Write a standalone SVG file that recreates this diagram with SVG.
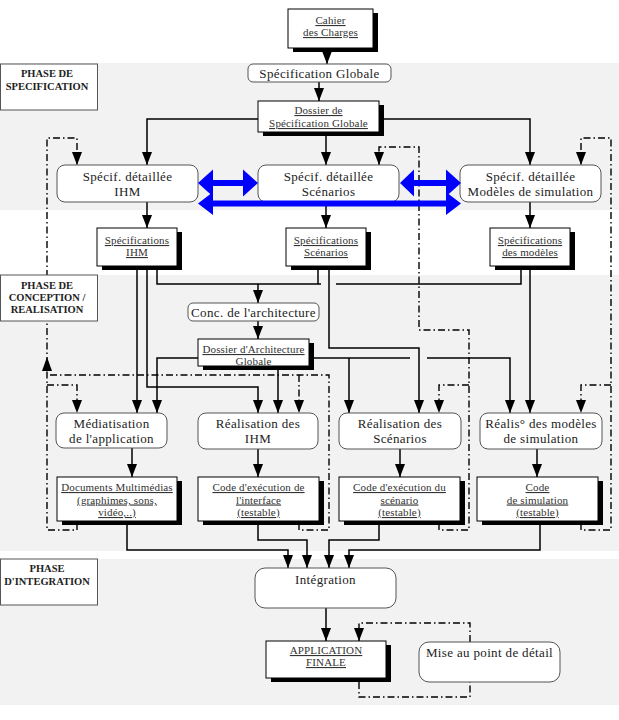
<svg xmlns="http://www.w3.org/2000/svg" width="619" height="720" viewBox="0 0 619 720">
<defs>
<marker id="ah" viewBox="0 0 13 10" refX="13" refY="5" markerWidth="13" markerHeight="10" markerUnits="userSpaceOnUse" orient="auto"><path d="M0,0 L13,5 L0,10 Z" fill="#000"/></marker>
<style>
.band{fill:#f2f2f2}
.phase rect{fill:#fff;stroke:#555;stroke-width:1}
.phase text{font-family:"Liberation Serif",serif;font-weight:bold;font-size:10.5px;text-anchor:middle;fill:#222}
.proc rect{fill:#fff;stroke:#555;stroke-width:1}
.proc text{font-family:"Liberation Serif",serif;font-size:13px;letter-spacing:0.35px;text-anchor:middle;fill:#222}
.doc .sh{fill:#000}
.doc .bx{fill:#fff;stroke:#000;stroke-width:1}
.doc text{font-family:"Liberation Serif",serif;font-size:11px;letter-spacing:0.15px;text-anchor:middle;fill:#333;text-decoration:underline}
.doc text.nu{text-decoration:none}
.c{fill:none;stroke:#000;stroke-width:1.5}
.d{fill:none;stroke:#000;stroke-width:1.4;stroke-dasharray:7 3 1.5 3}
.a{marker-end:url(#ah)}
.blue{fill:#0000ff}
</style>
</defs>
<g id="bands">
<rect class="band" x="0" y="63" width="619" height="147"/>
<rect class="band" x="0" y="275" width="619" height="276"/>
<rect class="band" x="0" y="559" width="619" height="146"/>
</g>
<g id="connectors">
<path class="c a" d="M327,48 V64"/>
<path class="c a" d="M319,82 V101"/>
<path class="c a" d="M258,119 H147 V165"/>
<path class="c a" d="M326,134 V165"/>
<path class="c a" d="M379,119 H530 V165"/>
<path class="c a" d="M147,202 V228"/>
<path class="c a" d="M326,202 V228"/>
<path class="c a" d="M530,202 V228"/>
<path class="c a" d="M137,266 V413"/>
<path class="c a" d="M147,266 V387 H258 V413"/>
<path class="c" d="M157,266 V284 H321"/>
<path class="c" d="M318,266 V284"/>
<path class="c" d="M336,284 H521 V267"/>
<path class="c a" d="M258,284 V303"/>
<path class="c a" d="M329,266 V348 H419 V413"/>
<path class="c a" d="M530,267 V413"/>
<path class="c a" d="M258,321 V339"/>
<path class="c a" d="M198,358 H157 V413"/>
<path class="c a" d="M278,368 V413"/>
<path class="c" d="M309,358 H410"/>
<path class="c a" d="M427,358 H510 V413"/>
<path class="c a" d="M349,358 V413"/>
<path class="c a" d="M132,448 V477"/>
<path class="c a" d="M258,449 V477"/>
<path class="c a" d="M400,449 V477"/>
<path class="c a" d="M537,449 V477"/>
<path class="c a" d="M127,523 V550 H288 V568"/>
<path class="c a" d="M258,523 V540 H307 V568"/>
<path class="c a" d="M379,523 V540 H329 V568"/>
<path class="c a" d="M540,523 V550 H349 V568"/>
<path class="c a" d="M326,608 V641"/>
<path class="d a" d="M77,523 V530 H47 V138 H77 V165"/>
<polygon points="47,357 42,371 52,371" fill="#000"/>
<path class="d" d="M299,523 V530 H329 V375 H47"/>
<path class="d a" d="M299,375 V413"/>
<path class="d a" d="M47,385 H77 V413"/>
<path class="d a" d="M439,523 V530 H469 V330 H419 V147 H379 V165"/>
<path class="d a" d="M469,385 H439 V413"/>
<path class="d a" d="M581,523 V530 H611 V138 H581 V165"/>
<path class="d a" d="M611,385 H581 V413"/>
<path class="d" d="M359,682 V697 H470 V682"/>
<path class="d a" d="M470,642 V623 H359 V641"/>
</g>
<g id="phase-spec" class="phase">
<rect x="0.5" y="64" width="97" height="46"/>
<text x="47" y="77">PHASE DE</text>
<text x="47" y="90">SPECIFICATION</text>
</g>
<g id="phase-conception" class="phase">
<rect x="0.5" y="275" width="97" height="46"/>
<text x="47" y="289">PHASE DE</text>
<text x="47" y="301">CONCEPTION /</text>
<text x="47" y="313">REALISATION</text>
</g>
<g id="phase-integration" class="phase">
<rect x="0.5" y="559" width="97" height="46"/>
<text x="47" y="572">PHASE</text>
<text x="47" y="585">D'INTEGRATION</text>
</g>
<g id="cahier" class="doc">
<rect class="sh" x="293" y="13" width="85" height="39"/>
<rect class="bx" x="288" y="9" width="85" height="39"/>
<text x="330.5" y="24">Cahier</text>
<text x="330.5" y="36">des Charges</text>
</g>
<g id="spec-globale" class="proc">
<rect x="248" y="64" width="143" height="18" rx="5"/>
<text x="319.5" y="78">Spécification Globale</text>
</g>
<g id="dossier-spec" class="doc">
<rect class="sh" x="263" y="105" width="121" height="31"/>
<rect class="bx" x="258" y="101" width="121" height="31"/>
<text x="318.5" y="114">Dossier de</text>
<text x="318.5" y="127">Spécification Globale</text>
</g>
<g id="spec-ihm" class="proc">
<rect x="57" y="165" width="141" height="37" rx="8"/>
<text x="127.5" y="181">Spécif. détaillée</text>
<text x="127.5" y="196">IHM</text>
</g>
<g id="spec-scen" class="proc">
<rect x="258" y="165" width="141" height="37" rx="8"/>
<text x="328.5" y="181">Spécif. détaillée</text>
<text x="328.5" y="196">Scénarios</text>
</g>
<g id="spec-mod" class="proc">
<rect x="460" y="165" width="141" height="37" rx="8"/>
<text x="530.5" y="181">Spécif. détaillée</text>
<text x="530.5" y="196">Modèles de simulation</text>
</g>
<g id="specs-ihm" class="doc">
<rect class="sh" x="102" y="232" width="80" height="38"/>
<rect class="bx" x="97" y="228" width="80" height="38"/>
<text x="137" y="244">Spécifications</text>
<text x="137" y="256">IHM</text>
</g>
<g id="specs-scen" class="doc">
<rect class="sh" x="291" y="232" width="80" height="38"/>
<rect class="bx" x="286" y="228" width="80" height="38"/>
<text x="326" y="244">Spécifications</text>
<text x="326" y="256">Scénarios</text>
</g>
<g id="specs-mod" class="doc">
<rect class="sh" x="495" y="232" width="80" height="38"/>
<rect class="bx" x="490" y="228" width="80" height="38"/>
<text x="530" y="244">Spécifications</text>
<text x="530" y="256">des modèles</text>
</g>
<g id="conc-archi" class="proc">
<rect x="188" y="303" width="131" height="18" rx="5"/>
<text x="253.5" y="317">Conc. de l'architecture</text>
</g>
<g id="dossier-archi" class="doc">
<rect class="sh" x="203" y="343" width="111" height="27"/>
<rect class="bx" x="198" y="339" width="111" height="27"/>
<text x="253.5" y="353">Dossier d'Architecture</text>
<text class="nu" x="253.5" y="365">Globale</text>
</g>
<g id="mediatisation" class="proc">
<rect x="56" y="413" width="111" height="35" rx="8"/>
<text x="111.5" y="428">Médiatisation</text>
<text x="111.5" y="443">de l'application</text>
</g>
<g id="real-ihm" class="proc">
<rect x="198" y="413" width="120" height="36" rx="8"/>
<text x="258" y="428">Réalisation des</text>
<text x="258" y="443">IHM</text>
</g>
<g id="real-scen" class="proc">
<rect x="339" y="413" width="122" height="36" rx="8"/>
<text x="400" y="428">Réalisation des</text>
<text x="400" y="443">Scénarios</text>
</g>
<g id="real-mod" class="proc">
<rect x="480" y="413" width="122" height="36" rx="8"/>
<text x="541" y="428">Réalis° des modèles</text>
<text x="541" y="443">de simulation</text>
</g>
<g id="docs-multi" class="doc">
<rect class="sh" x="62" y="481" width="120" height="44"/>
<rect class="bx" x="57" y="477" width="120" height="44"/>
<text x="117" y="491">Documents Multimédias</text>
<text x="117" y="503.5">(graphimes, sons,</text>
<text x="117" y="516">vidéo,..)</text>
</g>
<g id="code-ihm" class="doc">
<rect class="sh" x="203" y="481" width="121" height="44"/>
<rect class="bx" x="198" y="477" width="121" height="44"/>
<text x="258.5" y="491">Code d'exécution de</text>
<text x="258.5" y="503.5">l'interface</text>
<text x="258.5" y="516">(testable)</text>
</g>
<g id="code-scen" class="doc">
<rect class="sh" x="344" y="481" width="121" height="44"/>
<rect class="bx" x="339" y="477" width="121" height="44"/>
<text x="399.5" y="491">Code d'exécution du</text>
<text x="399.5" y="503.5">scénario</text>
<text x="399.5" y="516">(testable)</text>
</g>
<g id="code-sim" class="doc">
<rect class="sh" x="482" y="481" width="121" height="44"/>
<rect class="bx" x="477" y="477" width="121" height="44"/>
<text x="537.5" y="491">Code</text>
<text x="537.5" y="503.5">de simulation</text>
<text x="537.5" y="516">(testable)</text>
</g>
<g id="integration" class="proc">
<rect x="255" y="568" width="141" height="40" rx="10"/>
<text x="325.5" y="584">Intégration</text>
</g>
<g id="appli-finale" class="doc">
<rect class="sh" x="271" y="645" width="120" height="37"/>
<rect class="bx" x="266" y="641" width="120" height="37"/>
<text x="326" y="654">APPLICATION</text>
<text x="326" y="666">FINALE</text>
</g>
<g id="mise-au-point" class="proc">
<rect x="419" y="642" width="141" height="40" rx="10"/>
<text x="489.5" y="657">Mise au point de détail</text>
</g>
<g id="blue-links">
<polygon class="blue" points="198,183 213,169.5 213,180 243,180 243,169.5 258,183 243,196.5 243,186 213,186 213,196.5"/>
<polygon class="blue" points="400,183 414,169.5 414,180 446,180 446,169.5 461,183 446,196.5 446,186 414,186 414,196.5"/>
<polygon class="blue" points="198,203.5 213,192 213,200.5 446,200.5 446,192 461,203.5 446,215 446,206.5 213,206.5 213,215"/>
</g>
</svg>
